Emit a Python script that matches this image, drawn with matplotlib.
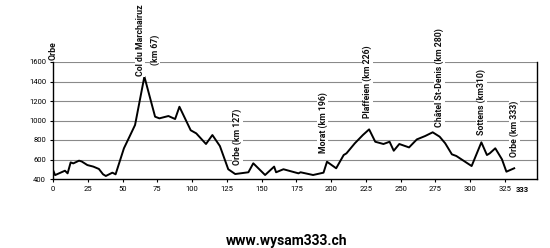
import matplotlib
matplotlib.use("Agg")
import matplotlib.pyplot as plt

km = [0, 1.5, 8.6, 10.5, 12.7, 14.6, 18.7, 20.6, 24.7, 29, 33, 36, 38, 42.7, 45,
      51, 55, 59, 62, 65.7, 73.4, 76.5, 83, 87.8, 90.9, 99, 103, 110, 114.6, 120,
      126, 131, 140.5, 144, 152.5, 159, 160.4, 165.7, 176.5, 178, 187, 194.5, 197,
      203.6, 209, 211, 217, 222.8, 227.3, 231.7, 237.6, 242, 245, 249, 256, 261.6,
      267.6, 273, 278, 282, 286.8, 290, 301, 308, 312, 314, 318, 322.8, 326, 331.6]
alt = [492, 440, 485, 458, 570, 560, 588, 580, 543, 527, 503, 448, 431, 465, 448,
       715, 834, 954, 1176, 1450, 1039, 1022, 1046, 1015, 1141, 900, 868, 759, 851, 738,
       500, 451, 469, 561, 441, 527, 469, 500, 458, 469, 441, 465, 577,
       510, 646, 663, 766, 851, 909, 782, 759, 782, 690, 759, 724, 806,
       841, 879, 834, 766, 653, 636, 533, 776, 646, 663, 715, 602, 475, 510]

xticks = list(range(0, 326, 25))
yticks = list(range(400, 1601, 200))

labels = ["Orbe", "Col du Marchairuz", "(km 67)", "Orbe (km 127)", "Morat (km 196)",
          "Plaffeien (km 226)", "Châtel St-Denis (km 280)", "Sottens (km310)", "Orbe (km 333)"]
label_x = [0, 62.6, 73.4, 132.4, 194, 226, 278, 308, 331.6]
label_y = [1620, 1456, 1569, 544, 667, 1026, 933, 851, 626]

FAM = ['Roboto', 'DejaVu Sans']

fig = plt.figure(figsize=(5.5, 2.48), dpi=100)
ax = fig.add_axes([53/550, 1-179/248, (537-53)/550, (179-62)/248])
ax.set_xlim(0, 348)
ax.set_ylim(400, 1600)
for y in yticks[1:]:
    ax.axhline(y, color='#8a8a8a', lw=0.8, zorder=1)
ax.plot(km, alt, color='black', lw=1.4, zorder=3)

ax.set_xticks(xticks)
ax.set_yticks(yticks)
ax.set_xticklabels([str(t) for t in xticks], fontsize=5.5, family=FAM)
ax.set_yticklabels([str(t) for t in yticks], fontsize=5.5, family=FAM)
ax.tick_params(axis='both', length=2, width=0.8, pad=3)
for s in ['left', 'bottom', 'right']:
    ax.spines[s].set_linewidth(1.0)
ax.spines['top'].set_visible(False)

ax.text(333, 400 - 1200 * 7 / 117, "333", fontsize=5.5, fontweight='bold', family=FAM,
        ha='left', va='top')

for t, x, y in zip(labels, label_x, label_y):
    ax.text(x, y, t, rotation=90, ha='center', va='bottom', fontsize=6.3, family=FAM,
            fontweight='bold', color='#111111', zorder=4, clip_on=False,
            bbox=dict(facecolor='white', edgecolor='none', pad=0.5))

fig.text(287/550, 1-241/248, "www.wysam333.ch", ha='center', va='center',
         fontsize=10, fontweight='bold', family=FAM)

fig.savefig("out.png", dpi=100)
